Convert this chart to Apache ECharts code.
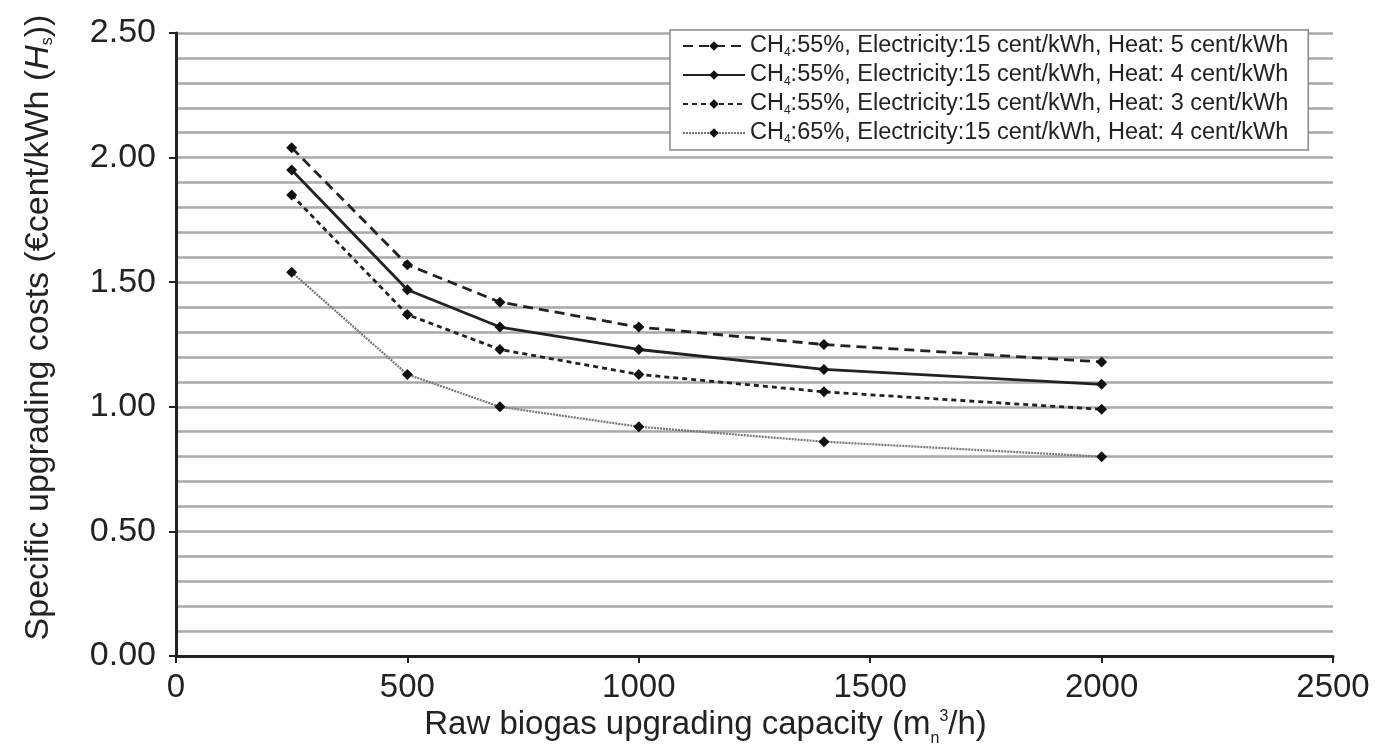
<!DOCTYPE html>
<html><head><meta charset="utf-8">
<script src="https://cdn.jsdelivr.net/npm/echarts@6/dist/echarts.min.js"></script>
<style>html,body{margin:0;padding:0;background:#fff}#c{width:1378px;height:756px}</style>
</head><body><div id="c"></div>
<script>
const capacities = [250, 500, 700, 1000, 1400, 2000];
const heat5 = [2.04, 1.57, 1.42, 1.32, 1.25, 1.18];
const heat4 = [1.95, 1.47, 1.32, 1.23, 1.15, 1.09];
const heat3 = [1.85, 1.37, 1.23, 1.13, 1.06, 0.99];
const ch65 = [1.54, 1.13, 1.00, 0.92, 0.86, 0.80];
const seriesNames = [
  'CH4:55%, Electricity:15 cent/kWh, Heat: 5 cent/kWh',
  'CH4:55%, Electricity:15 cent/kWh, Heat: 4 cent/kWh',
  'CH4:55%, Electricity:15 cent/kWh, Heat: 3 cent/kWh',
  'CH4:65%, Electricity:15 cent/kWh, Heat: 4 cent/kWh'
];
const pair = arr => capacities.map((x, i) => [x, arr[i]]);
const font = 'Liberation Sans, Arial, sans-serif';

const mk = (name, data, type, width, color) => ({
  name, type: 'line', data: pair(data),
  symbol: 'diamond', symbolSize: 11,
  itemStyle: { color: '#111' },
  lineStyle: { type, width, color },
  emphasis: { disabled: true }
});

const chart = echarts.init(document.getElementById('c'));
chart.setOption({
  animation: false,
  backgroundColor: '#fff',
  grid: { left: 176, right: 45, top: 33, bottom: 100, containLabel: false },
  legend: {
    left: 670, top: 30, orient: 'vertical',
    backgroundColor: '#fff', borderColor: '#888', borderWidth: 1.5, borderRadius: 0,
    padding: [4, 20, 4, 12], itemGap: 4, itemWidth: 62, itemHeight: 12,
    data: seriesNames,
    formatter: n => '{t|CH}{s|4}{t|' + n.slice(3) + '}',
    textStyle: {
      rich: {
        t: { fontFamily: font, fontSize: 23.5, color: '#222' },
        s: { fontFamily: font, fontSize: 12, color: '#222', padding: [14, 0, 0, 0] }
      }
    }
  },
  xAxis: {
    type: 'value', min: 0, max: 2500, interval: 500,
    axisLine: { show: true, onZero: false, lineStyle: { color: '#222', width: 3 } },
    axisTick: { show: true, length: 7, lineStyle: { color: '#222', width: 2 } },
    splitLine: { show: false },
    axisLabel: { fontFamily: font, fontSize: 33, color: '#222', margin: 15, formatter: v => String(v) },
    name: '{t|Raw biogas upgrading capacity (m}{sb|n}{sp|3}{t|/h)}',
    nameLocation: 'middle', nameGap: 44,
    nameTextStyle: {
      padding: [0, 98, 0, 0],
      rich: {
        t: { fontFamily: font, fontSize: 33, color: '#222' },
        sb: { fontFamily: font, fontSize: 16, color: '#222', padding: [26, 0, 0, 0] },
        sp: { fontFamily: font, fontSize: 16, color: '#222', padding: [0, 0, 17, 0] }
      }
    }
  },
  yAxis: {
    type: 'value', min: 0, max: 2.5, interval: 0.5,
    axisLine: { show: true, lineStyle: { color: '#222', width: 3 } },
    axisTick: { show: true, length: 7, lineStyle: { color: '#222', width: 2 } },
    axisLabel: { fontFamily: font, fontSize: 34, color: '#222', margin: 20, formatter: v => v.toFixed(2) },
    splitLine: { show: true, lineStyle: { color: '#a8a8a8', width: 2.5 } },
    minorTick: { show: false, splitNumber: 5 },
    minorSplitLine: { show: true, lineStyle: { color: '#a8a8a8', width: 2.5 } },
    name: '{t|Specific upgrading costs (€cent/kWh (}{i|H}{s|s}{t|))}',
    nameLocation: 'middle', nameRotate: 90, nameGap: 120,
    nameTextStyle: {
      padding: [0, 0, 0, 34],
      rich: {
        t: { fontFamily: font, fontSize: 34, color: '#222' },
        i: { fontFamily: font, fontSize: 34, fontStyle: 'italic', color: '#222' },
        s: { fontFamily: font, fontSize: 16, color: '#222', padding: [18, 0, 0, 0] }
      }
    }
  },
  series: [
    mk(seriesNames[0], heat5, [10, 6], 2.8, '#222'),
    mk(seriesNames[1], heat4, 'solid', 2.8, '#222'),
    mk(seriesNames[2], heat3, [5, 4], 2.8, '#222'),
    mk(seriesNames[3], ch65, [2, 1], 2.2, '#777')
  ]
});
</script></body></html>
